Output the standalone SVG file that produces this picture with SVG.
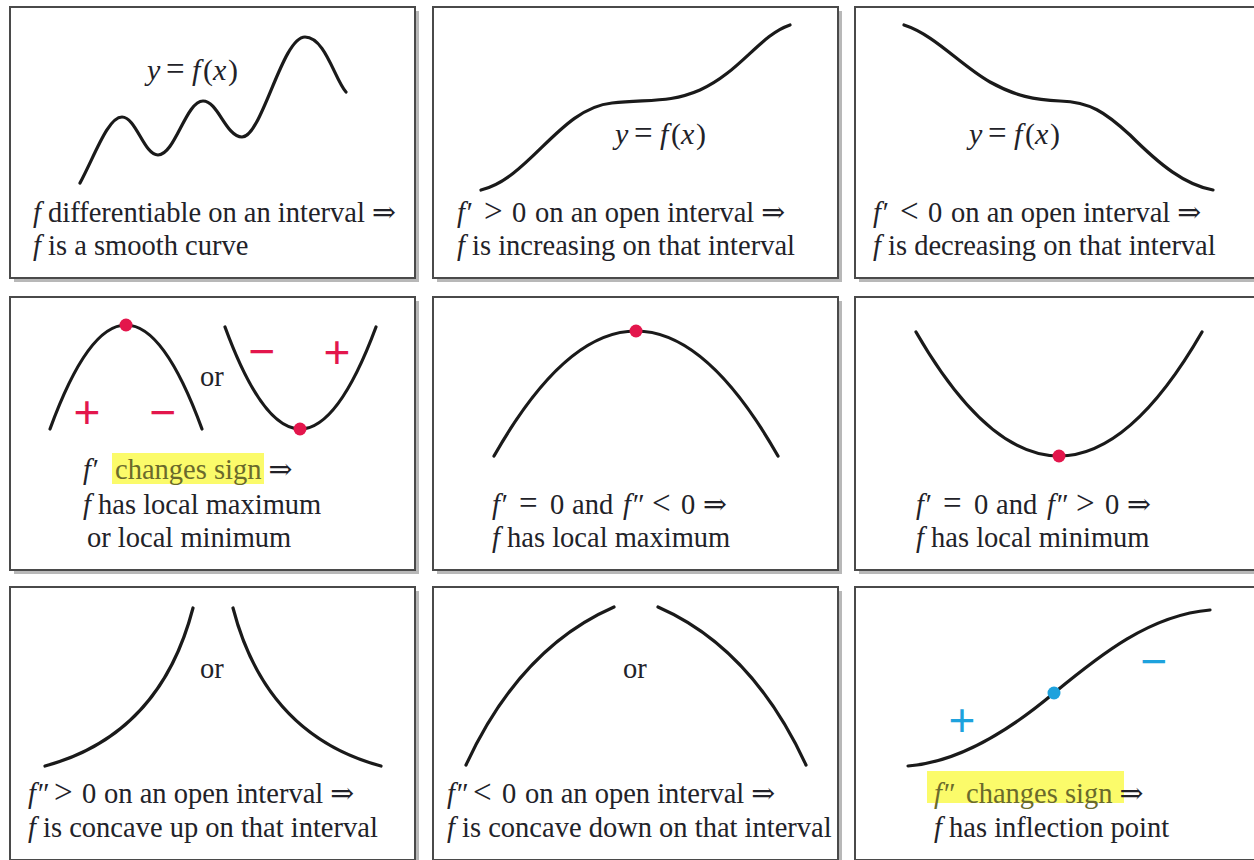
<svg xmlns="http://www.w3.org/2000/svg" width="1254" height="860" viewBox="0 0 1254 860">
<defs>
<style>
.shadow{fill:#b8b8b8}
.panel{fill:#ffffff;stroke:#4a4a4a;stroke-width:2}
.curve{fill:none;stroke:#1a1a1a;stroke-width:3.2;stroke-linecap:round}
.t{font-family:"Liberation Serif","DejaVu Serif",serif;font-size:28.5px;fill:#222228}
.eq{font-family:"Liberation Serif","DejaVu Serif",serif;font-size:30px;fill:#222228}
.op{font-size:33px}
.i{font-style:italic}
.hl{fill:#fbfb6a}
.ht{fill:#6a6a2c}
.red{fill:#e3164c}
.blue{fill:#1ea2dd}
.sgn{font-family:"Liberation Sans","DejaVu Sans",sans-serif;font-size:46px;text-anchor:middle}
</style>
</defs>
<rect x="0" y="0" width="1254" height="860" fill="#ffffff"/>

<g id="panel1">
<rect class="shadow" x="14" y="11" width="405" height="271"/>
<rect class="panel" x="10" y="7" width="405" height="271"/>
<path class="curve" d="M80,183 C95,155 108,117 122,117 C136,117 144,155 158,155 C175,155 186,101 203,101 C218,101 226,137 242,137 C262,137 282,37 305,37 C325,37 335,80 346,92"/>
<text class="eq" y="80"><tspan class="i" x="147">y</tspan><tspan class="op" x="166">=</tspan><tspan class="i" x="192">f</tspan><tspan x="203">(</tspan><tspan class="i" x="213">x</tspan><tspan x="228">)</tspan></text>
<text class="t" x="33" y="222"><tspan class="i">f</tspan> differentiable on an interval ⇒</text>
<text class="t" x="33" y="255"><tspan class="i">f</tspan> is a smooth curve</text>
</g>

<g id="panel2">
<rect class="shadow" x="437" y="11" width="405" height="271"/>
<rect class="panel" x="433" y="7" width="405" height="271"/>
<path class="curve" d="M481,190 C530,178 560,108 612,103 C650,99 670,103 700,90 C740,72 760,35 790,25"/>
<text class="eq" y="144"><tspan class="i" x="615">y</tspan><tspan class="op" x="634">=</tspan><tspan class="i" x="660">f</tspan><tspan x="671">(</tspan><tspan class="i" x="681">x</tspan><tspan x="696">)</tspan></text>
<text class="t" y="222"><tspan class="i" x="457">f′</tspan><tspan class="op" x="484">&gt;</tspan><tspan x="512">0</tspan><tspan x="535">on an open interval ⇒</tspan></text>
<text class="t" x="457" y="255"><tspan class="i">f</tspan> is increasing on that interval</text>
</g>

<g id="panel3">
<rect class="shadow" x="859" y="11" width="405" height="271"/>
<rect class="panel" x="855" y="7" width="405" height="271"/>
<path class="curve" d="M904,25 C935,35 960,65 990,82 C1015,96 1035,100 1060,101 C1090,102 1105,112 1130,135 C1160,165 1185,185 1213,190"/>
<text class="eq" y="144"><tspan class="i" x="969">y</tspan><tspan class="op" x="988">=</tspan><tspan class="i" x="1014">f</tspan><tspan x="1025">(</tspan><tspan class="i" x="1035">x</tspan><tspan x="1050">)</tspan></text>
<text class="t" y="222"><tspan class="i" x="873">f′</tspan><tspan class="op" x="900">&lt;</tspan><tspan x="928">0</tspan><tspan x="951">on an open interval ⇒</tspan></text>
<text class="t" x="873" y="255"><tspan class="i">f</tspan> is decreasing on that interval</text>
</g>

<g id="panel4">
<rect class="shadow" x="14" y="301" width="405" height="273"/>
<rect class="panel" x="10" y="297" width="405" height="273"/>
<path class="curve" d="M50,429 Q126,221 202,429"/>
<path class="curve" d="M225,327 Q300,531 376,327"/>
<circle class="red" cx="126" cy="325" r="6.5"/>
<circle class="red" cx="300" cy="429" r="6.5"/>
<text class="sgn red" x="87" y="428">+</text>
<text class="sgn red" x="163" y="428">−</text>
<text class="sgn red" x="262" y="367">−</text>
<text class="sgn red" x="337" y="368">+</text>
<text class="t" x="200" y="386">or</text>
<rect class="hl" x="112" y="453" width="152" height="31"/>
<text class="t" x="83" y="479"><tspan class="i">f′</tspan><tspan class="ht" x="115">changes sign</tspan> ⇒</text>
<text class="t" x="83" y="514"><tspan class="i">f</tspan> has local maximum</text>
<text class="t" x="87" y="547">or local minimum</text>
</g>

<g id="panel5">
<rect class="shadow" x="437" y="301" width="405" height="273"/>
<rect class="panel" x="433" y="297" width="405" height="273"/>
<path class="curve" d="M494,456 Q636,206 778,456"/>
<circle class="red" cx="636" cy="331" r="6.5"/>
<text class="t" y="514"><tspan class="i" x="492">f′</tspan><tspan class="op" x="519">=</tspan><tspan x="550">0</tspan><tspan x="572">and</tspan><tspan class="i" x="623">f″</tspan><tspan class="op" x="652">&lt;</tspan><tspan x="681">0</tspan><tspan x="703">⇒</tspan></text>
<text class="t" x="492" y="547"><tspan class="i">f</tspan> has local maximum</text>
</g>

<g id="panel6">
<rect class="shadow" x="859" y="301" width="405" height="273"/>
<rect class="panel" x="855" y="297" width="405" height="273"/>
<path class="curve" d="M916,332 Q1059,580 1202,332"/>
<circle class="red" cx="1059" cy="456" r="6.5"/>
<text class="t" y="514"><tspan class="i" x="916">f′</tspan><tspan class="op" x="943">=</tspan><tspan x="974">0</tspan><tspan x="996">and</tspan><tspan class="i" x="1047">f″</tspan><tspan class="op" x="1076">&gt;</tspan><tspan x="1105">0</tspan><tspan x="1127">⇒</tspan></text>
<text class="t" x="916" y="547"><tspan class="i">f</tspan> has local minimum</text>
</g>

<g id="panel7">
<rect class="shadow" x="14" y="591" width="405" height="273"/>
<rect class="panel" x="10" y="587" width="405" height="273"/>
<path class="curve" d="M45,766 Q160,735 193,608"/>
<path class="curve" d="M233,608 Q266,735 381,766"/>
<text class="t" x="200" y="678">or</text>
<text class="t" y="803"><tspan class="i" x="28">f″</tspan><tspan class="op" x="54">&gt;</tspan><tspan x="82">0</tspan><tspan x="104">on an open interval ⇒</tspan></text>
<text class="t" x="28" y="837"><tspan class="i">f</tspan> is concave up on that interval</text>
</g>

<g id="panel8">
<rect class="shadow" x="437" y="591" width="405" height="273"/>
<rect class="panel" x="433" y="587" width="405" height="273"/>
<path class="curve" d="M466,765 Q520,648 614,607"/>
<path class="curve" d="M658,607 Q752,648 806,765"/>
<text class="t" x="623" y="678">or</text>
<text class="t" y="803"><tspan class="i" x="447">f″</tspan><tspan class="op" x="473">&lt;</tspan><tspan x="502">0</tspan><tspan x="525">on an open interval ⇒</tspan></text>
<text class="t" x="447" y="837"><tspan class="i">f</tspan> is concave down on that interval</text>
</g>

<g id="panel9">
<rect class="shadow" x="859" y="591" width="405" height="273"/>
<rect class="panel" x="855" y="587" width="405" height="273"/>
<path class="curve" d="M908,766 C960,762 1010,730 1054,693 C1100,655 1150,615 1210,610"/>
<circle class="blue" cx="1054" cy="693" r="6.5"/>
<text class="sgn blue" x="962" y="736">+</text>
<text class="sgn blue" x="1154" y="677">−</text>
<rect class="hl" x="927" y="771" width="197" height="32"/>
<text class="t" x="934" y="803"><tspan class="i ht">f″</tspan><tspan class="ht" x="966">changes sign</tspan> ⇒</text>
<text class="t" x="934" y="837"><tspan class="i">f</tspan> has inflection point</text>
</g>

<g id="connectors"></g>
</svg>
